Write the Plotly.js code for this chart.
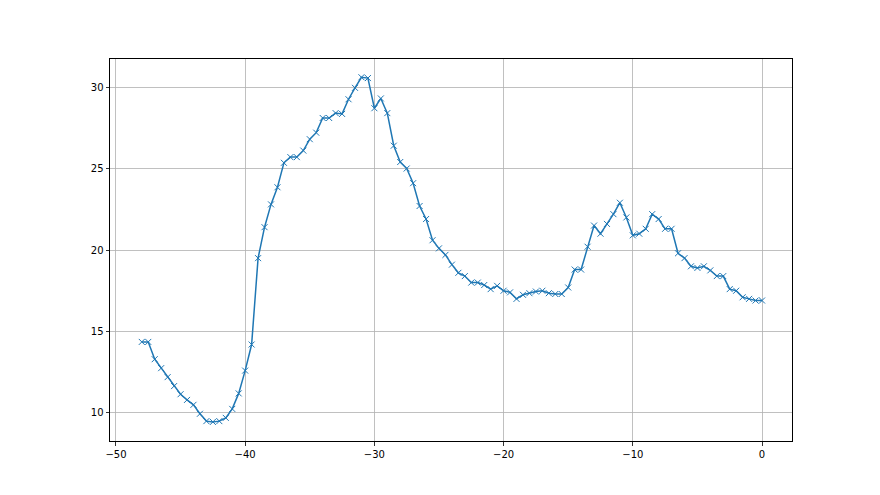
<!DOCTYPE html>
<html>
<head>
<meta charset="utf-8">
<script src="https://cdn.plot.ly/plotly-3.0.1.min.js"></script>
<style>html,body{margin:0;padding:0;background:#fff;}#chart{width:880px;height:495px;}</style>
</head>
<body>
<div id="chart"></div>
<script>
const xValues = [-48,-47.5,-47,-46.5,-46,-45.5,-45,-44.5,-44,-43.5,-43,-42.5,-42,-41.5,-41,-40.5,-40,-39.5,-39,-38.5,-38,-37.5,-37,-36.5,-36,-35.5,-35,-34.5,-34,-33.5,-33,-32.5,-32,-31.5,-31,-30.5,-30,-29.5,-29,-28.5,-28,-27.5,-27,-26.5,-26,-25.5,-25,-24.5,-24,-23.5,-23,-22.5,-22,-21.5,-21,-20.5,-20,-19.5,-19,-18.5,-18,-17.5,-17,-16.5,-16,-15.5,-15,-14.5,-14,-13.5,-13,-12.5,-12,-11.5,-11,-10.5,-10,-9.5,-9,-8.5,-8,-7.5,-7,-6.5,-6,-5.5,-5,-4.5,-4,-3.5,-3,-2.5,-2,-1.5,-1,-0.5,0];
const yValues = [14.36,14.36,13.3,12.75,12.2,11.65,11.15,10.8,10.5,9.95,9.5,9.45,9.5,9.7,10.25,11.2,12.6,14.2,19.5,21.4,22.8,23.85,25.35,25.7,25.7,26.1,26.8,27.2,28.1,28.1,28.4,28.35,29.25,29.95,30.6,30.55,28.7,29.3,28.4,26.4,25.4,25.0,24.1,22.7,21.9,20.6,20.1,19.7,19.1,18.6,18.4,18.0,18.0,17.85,17.6,17.8,17.5,17.4,17.0,17.25,17.35,17.45,17.5,17.35,17.3,17.3,17.7,18.8,18.8,20.2,21.5,21.0,21.6,22.2,22.9,22.0,20.9,21.0,21.3,22.2,21.9,21.3,21.3,19.8,19.5,19.0,18.9,19.0,18.75,18.4,18.4,17.6,17.5,17.1,17.0,16.9,16.9];
const xTicks = [-50,-40,-30,-20,-10,0];
const yTicks = [10,15,20,25,30];

const trace = {
  x: xValues, y: yValues, type: 'scatter', mode: 'lines+markers',
  line: {color: '#1f77b4', width: 1.5},
  marker: {symbol: 'x-thin-open', size: 6, color: '#1f77b4', line: {color: '#1f77b4', width: 1}},
  showlegend: false, hoverinfo: 'none'
};
const axisCommon = {
  showline: true, linecolor: '#000', linewidth: 1, mirror: true,
  ticks: 'outside', ticklen: 3.5, tickwidth: 0.8, tickcolor: '#000',
  showgrid: true, gridcolor: '#b0b0b0', gridwidth: 0.8,
  zeroline: false, tickfont: {family: 'DejaVu Sans', size: 10, color: '#000'},
  tickmode: 'array'
};
const layout = {
  width: 880, height: 495,
  margin: {l: 110, r: 88, t: 59, b: 54},
  paper_bgcolor: '#fff', plot_bgcolor: '#fff',
  xaxis: Object.assign({}, axisCommon, {range: [-50.46, 2.32], tickvals: xTicks, ticktext: xTicks.map(v => v < 0 ? '\u2212' + Math.abs(v) : String(v))}),
  yaxis: Object.assign({}, axisCommon, {range: [8.28, 31.72], tickvals: yTicks, ticktext: yTicks.map(String)})
};
Plotly.newPlot('chart', [trace], layout, {staticPlot: true, displayModeBar: false});
</script>
</body>
</html>
